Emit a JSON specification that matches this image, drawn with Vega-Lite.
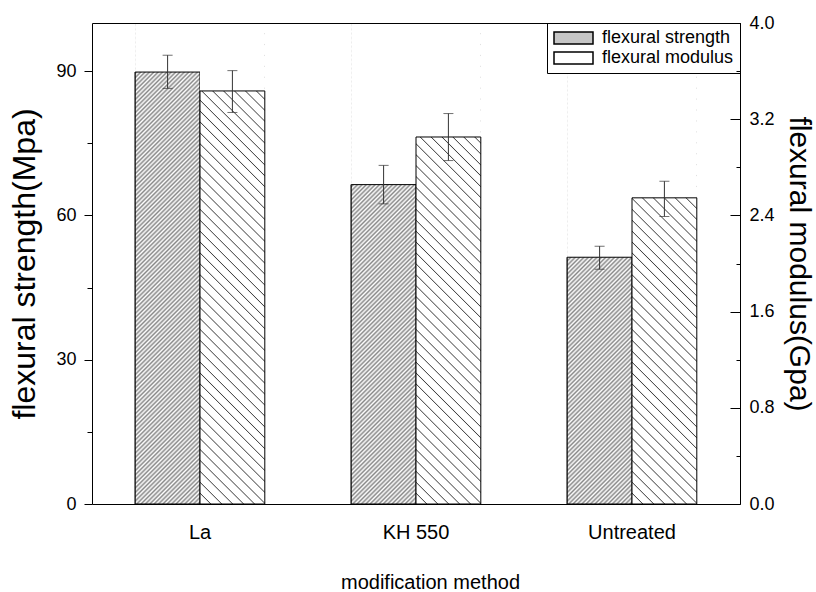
{
"$schema":"https://vega.github.io/schema/vega-lite/v6.json",
"width":648,"height":481,
"autosize":{"type":"none"},
"padding":{"left":92,"top":23,"right":76,"bottom":88},
"background":"white",
"config":{"view":{"stroke":null},"font":"Liberation Sans","axis":{"grid":false}},
"data":{"values":[
{"method":"La","series":"flexural strength","value":89.8,"lo":86.4,"hi":93.3},
{"method":"KH 550","series":"flexural strength","value":66.4,"lo":62.4,"hi":70.4},
{"method":"Untreated","series":"flexural strength","value":51.3,"lo":48.8,"hi":53.6},
{"method":"La","series":"flexural modulus","value":3.435,"lo":3.256,"hi":3.604},
{"method":"KH 550","series":"flexural modulus","value":3.052,"lo":2.856,"hi":3.247},
{"method":"Untreated","series":"flexural modulus","value":2.546,"lo":2.391,"hi":2.684}
]},
"layer":[
{
"transform":[{"filter":"datum.series === 'flexural strength'"}],
"encoding":{
"x":{"field":"method","type":"nominal","sort":["La","KH 550","Untreated"],"scale":{"paddingInner":0.4,"paddingOuter":0.2},"axis":null},
"xOffset":{"field":"series","type":"nominal","scale":{"domain":["flexural strength","flexural modulus"],"paddingInner":0,"paddingOuter":0}}
},
"layer":[
{"mark":{"type":"bar","stroke":"black","strokeWidth":1},
"encoding":{
"y":{"field":"value","type":"quantitative","scale":{"domain":[0,100],"nice":false},"axis":null},
"fill":{"field":"series","type":"nominal","scale":{"domain":["flexural strength","flexural modulus"],"range":["#c6c6c6","#ffffff"]},
"legend":{"title":null,"orient":"top-right","offset":0,"padding":6,"strokeColor":"black","fillColor":"white","symbolType":"M-1,-0.31H1V0.31H-1Z","symbolSize":1521,"clipHeight":18,"rowPadding":2,"labelFont":"Liberation Sans","labelFontSize":18,"labelColor":"black","labelOffset":8,"labelLimit":300,
"encode":{"symbols":{
"fill":{"condition":{"test":"datum.label === 'flexural modulus'","value":{"gradient":"linear","x1":0,"y1":1,"x2":1.1946,"y2":0.6324,"stops":[
{"offset":0,"color":"#444"},{"offset":0.02,"color":"#fff"},{"offset":0.18,"color":"#fff"},{"offset":0.2,"color":"#444"},{"offset":0.22,"color":"#fff"},{"offset":0.38,"color":"#fff"},{"offset":0.4,"color":"#444"},{"offset":0.42,"color":"#fff"},{"offset":0.58,"color":"#fff"},{"offset":0.6,"color":"#444"},{"offset":0.62,"color":"#fff"},{"offset":0.78,"color":"#fff"},{"offset":0.8,"color":"#444"},{"offset":0.82,"color":"#fff"},{"offset":0.98,"color":"#fff"},{"offset":1,"color":"#444"}]}},
"value":"#c6c6c6"},
"stroke":{"value":"black"},"strokeWidth":{"value":1},"opacity":{"value":1}}}}}
}},
{"mark":{"type":"bar","fill":{"gradient":"linear","x1":0,"y1":0,"x2":0.15015,"y2":1.11451,"stops":[
{"offset":0,"color":"#fff"},{"offset":0.004,"color":"#888"},{"offset":0.008,"color":"#fff"},{"offset":0.012,"color":"#888"},{"offset":0.016,"color":"#fff"},{"offset":0.02,"color":"#888"},{"offset":0.024,"color":"#fff"},{"offset":0.028,"color":"#888"},{"offset":0.032,"color":"#fff"},{"offset":0.036,"color":"#888"},
{"offset":0.04,"color":"#fff"},{"offset":0.044,"color":"#888"},{"offset":0.048,"color":"#fff"},{"offset":0.052,"color":"#888"},{"offset":0.056,"color":"#fff"},{"offset":0.06,"color":"#888"},{"offset":0.064,"color":"#fff"},{"offset":0.068,"color":"#888"},{"offset":0.072,"color":"#fff"},{"offset":0.076,"color":"#888"},
{"offset":0.08,"color":"#fff"},{"offset":0.084,"color":"#888"},{"offset":0.088,"color":"#fff"},{"offset":0.092,"color":"#888"},{"offset":0.096,"color":"#fff"},{"offset":0.1,"color":"#888"},{"offset":0.104,"color":"#fff"},{"offset":0.108,"color":"#888"},{"offset":0.112,"color":"#fff"},{"offset":0.116,"color":"#888"},
{"offset":0.12,"color":"#fff"},{"offset":0.124,"color":"#888"},{"offset":0.128,"color":"#fff"},{"offset":0.132,"color":"#888"},{"offset":0.136,"color":"#fff"},{"offset":0.14,"color":"#888"},{"offset":0.144,"color":"#fff"},{"offset":0.148,"color":"#888"},{"offset":0.152,"color":"#fff"},{"offset":0.156,"color":"#888"},
{"offset":0.16,"color":"#fff"},{"offset":0.164,"color":"#888"},{"offset":0.168,"color":"#fff"},{"offset":0.172,"color":"#888"},{"offset":0.176,"color":"#fff"},{"offset":0.18,"color":"#888"},{"offset":0.184,"color":"#fff"},{"offset":0.188,"color":"#888"},{"offset":0.192,"color":"#fff"},{"offset":0.196,"color":"#888"},
{"offset":0.2,"color":"#fff"},{"offset":0.204,"color":"#888"},{"offset":0.208,"color":"#fff"},{"offset":0.212,"color":"#888"},{"offset":0.216,"color":"#fff"},{"offset":0.22,"color":"#888"},{"offset":0.224,"color":"#fff"},{"offset":0.228,"color":"#888"},{"offset":0.232,"color":"#fff"},{"offset":0.236,"color":"#888"},
{"offset":0.24,"color":"#fff"},{"offset":0.244,"color":"#888"},{"offset":0.248,"color":"#fff"},{"offset":0.252,"color":"#888"},{"offset":0.256,"color":"#fff"},{"offset":0.26,"color":"#888"},{"offset":0.264,"color":"#fff"},{"offset":0.268,"color":"#888"},{"offset":0.272,"color":"#fff"},{"offset":0.276,"color":"#888"},
{"offset":0.28,"color":"#fff"},{"offset":0.284,"color":"#888"},{"offset":0.288,"color":"#fff"},{"offset":0.292,"color":"#888"},{"offset":0.296,"color":"#fff"},{"offset":0.3,"color":"#888"},{"offset":0.304,"color":"#fff"},{"offset":0.308,"color":"#888"},{"offset":0.312,"color":"#fff"},{"offset":0.316,"color":"#888"},
{"offset":0.32,"color":"#fff"},{"offset":0.324,"color":"#888"},{"offset":0.328,"color":"#fff"},{"offset":0.332,"color":"#888"},{"offset":0.336,"color":"#fff"},{"offset":0.34,"color":"#888"},{"offset":0.344,"color":"#fff"},{"offset":0.348,"color":"#888"},{"offset":0.352,"color":"#fff"},{"offset":0.356,"color":"#888"},
{"offset":0.36,"color":"#fff"},{"offset":0.364,"color":"#888"},{"offset":0.368,"color":"#fff"},{"offset":0.372,"color":"#888"},{"offset":0.376,"color":"#fff"},{"offset":0.38,"color":"#888"},{"offset":0.384,"color":"#fff"},{"offset":0.388,"color":"#888"},{"offset":0.392,"color":"#fff"},{"offset":0.396,"color":"#888"},
{"offset":0.4,"color":"#fff"},{"offset":0.404,"color":"#888"},{"offset":0.408,"color":"#fff"},{"offset":0.412,"color":"#888"},{"offset":0.416,"color":"#fff"},{"offset":0.42,"color":"#888"},{"offset":0.424,"color":"#fff"},{"offset":0.428,"color":"#888"},{"offset":0.432,"color":"#fff"},{"offset":0.436,"color":"#888"},
{"offset":0.44,"color":"#fff"},{"offset":0.444,"color":"#888"},{"offset":0.448,"color":"#fff"},{"offset":0.452,"color":"#888"},{"offset":0.456,"color":"#fff"},{"offset":0.46,"color":"#888"},{"offset":0.464,"color":"#fff"},{"offset":0.468,"color":"#888"},{"offset":0.472,"color":"#fff"},{"offset":0.476,"color":"#888"},
{"offset":0.48,"color":"#fff"},{"offset":0.484,"color":"#888"},{"offset":0.488,"color":"#fff"},{"offset":0.492,"color":"#888"},{"offset":0.496,"color":"#fff"},{"offset":0.5,"color":"#888"},{"offset":0.504,"color":"#fff"},{"offset":0.508,"color":"#888"},{"offset":0.512,"color":"#fff"},{"offset":0.516,"color":"#888"},
{"offset":0.52,"color":"#fff"},{"offset":0.524,"color":"#888"},{"offset":0.528,"color":"#fff"},{"offset":0.532,"color":"#888"},{"offset":0.536,"color":"#fff"},{"offset":0.54,"color":"#888"},{"offset":0.544,"color":"#fff"},{"offset":0.548,"color":"#888"},{"offset":0.552,"color":"#fff"},{"offset":0.556,"color":"#888"},
{"offset":0.56,"color":"#fff"},{"offset":0.564,"color":"#888"},{"offset":0.568,"color":"#fff"},{"offset":0.572,"color":"#888"},{"offset":0.576,"color":"#fff"},{"offset":0.58,"color":"#888"},{"offset":0.584,"color":"#fff"},{"offset":0.588,"color":"#888"},{"offset":0.592,"color":"#fff"},{"offset":0.596,"color":"#888"},
{"offset":0.6,"color":"#fff"},{"offset":0.604,"color":"#888"},{"offset":0.608,"color":"#fff"},{"offset":0.612,"color":"#888"},{"offset":0.616,"color":"#fff"},{"offset":0.62,"color":"#888"},{"offset":0.624,"color":"#fff"},{"offset":0.628,"color":"#888"},{"offset":0.632,"color":"#fff"},{"offset":0.636,"color":"#888"},
{"offset":0.64,"color":"#fff"},{"offset":0.644,"color":"#888"},{"offset":0.648,"color":"#fff"},{"offset":0.652,"color":"#888"},{"offset":0.656,"color":"#fff"},{"offset":0.66,"color":"#888"},{"offset":0.664,"color":"#fff"},{"offset":0.668,"color":"#888"},{"offset":0.672,"color":"#fff"},{"offset":0.676,"color":"#888"},
{"offset":0.68,"color":"#fff"},{"offset":0.684,"color":"#888"},{"offset":0.688,"color":"#fff"},{"offset":0.692,"color":"#888"},{"offset":0.696,"color":"#fff"},{"offset":0.7,"color":"#888"},{"offset":0.704,"color":"#fff"},{"offset":0.708,"color":"#888"},{"offset":0.712,"color":"#fff"},{"offset":0.716,"color":"#888"},
{"offset":0.72,"color":"#fff"},{"offset":0.724,"color":"#888"},{"offset":0.728,"color":"#fff"},{"offset":0.732,"color":"#888"},{"offset":0.736,"color":"#fff"},{"offset":0.74,"color":"#888"},{"offset":0.744,"color":"#fff"},{"offset":0.748,"color":"#888"},{"offset":0.752,"color":"#fff"},{"offset":0.756,"color":"#888"},
{"offset":0.76,"color":"#fff"},{"offset":0.764,"color":"#888"},{"offset":0.768,"color":"#fff"},{"offset":0.772,"color":"#888"},{"offset":0.776,"color":"#fff"},{"offset":0.78,"color":"#888"},{"offset":0.784,"color":"#fff"},{"offset":0.788,"color":"#888"},{"offset":0.792,"color":"#fff"},{"offset":0.796,"color":"#888"},
{"offset":0.8,"color":"#fff"},{"offset":0.804,"color":"#888"},{"offset":0.808,"color":"#fff"},{"offset":0.812,"color":"#888"},{"offset":0.816,"color":"#fff"},{"offset":0.82,"color":"#888"},{"offset":0.824,"color":"#fff"},{"offset":0.828,"color":"#888"},{"offset":0.832,"color":"#fff"},{"offset":0.836,"color":"#888"},
{"offset":0.84,"color":"#fff"},{"offset":0.844,"color":"#888"},{"offset":0.848,"color":"#fff"},{"offset":0.852,"color":"#888"},{"offset":0.856,"color":"#fff"},{"offset":0.86,"color":"#888"},{"offset":0.864,"color":"#fff"},{"offset":0.868,"color":"#888"},{"offset":0.872,"color":"#fff"},{"offset":0.876,"color":"#888"},
{"offset":0.88,"color":"#fff"},{"offset":0.884,"color":"#888"},{"offset":0.888,"color":"#fff"},{"offset":0.892,"color":"#888"},{"offset":0.896,"color":"#fff"},{"offset":0.9,"color":"#888"},{"offset":0.904,"color":"#fff"},{"offset":0.908,"color":"#888"},{"offset":0.912,"color":"#fff"},{"offset":0.916,"color":"#888"},
{"offset":0.92,"color":"#fff"},{"offset":0.924,"color":"#888"},{"offset":0.928,"color":"#fff"},{"offset":0.932,"color":"#888"},{"offset":0.936,"color":"#fff"},{"offset":0.94,"color":"#888"},{"offset":0.944,"color":"#fff"},{"offset":0.948,"color":"#888"},{"offset":0.952,"color":"#fff"},{"offset":0.956,"color":"#888"},
{"offset":0.96,"color":"#fff"},{"offset":0.964,"color":"#888"},{"offset":0.968,"color":"#fff"},{"offset":0.972,"color":"#888"},{"offset":0.976,"color":"#fff"},{"offset":0.98,"color":"#888"},{"offset":0.984,"color":"#fff"},{"offset":0.988,"color":"#888"},{"offset":0.992,"color":"#fff"},{"offset":0.996,"color":"#888"},
{"offset":1,"color":"#fff"}]}},
"encoding":{
"x":{"field":"method","type":"nominal","sort":["La","KH 550","Untreated"],"scale":{"paddingInner":0.4,"paddingOuter":0.2},"axis":{"orient":"bottom","ticks":false,"domain":true,"domainColor":"black","domainWidth":1,"labelFontSize":20,"labelColor":"black","labelPadding":18,"labelAngle":0,"title":"modification method","titleFontSize":20,"titleFontWeight":"normal","titleColor":"black","titlePadding":30,"titleX":338,"zindex":1}},
"y":{"datum":100,"type":"quantitative","scale":{"domain":[0,100],"nice":false},"axis":{"orient":"left","values":[0,30,60,90],"tickSize":8,"tickColor":"black","labelFontSize":18,"labelColor":"black","labelPadding":8,"labelFlush":false,"domainColor":"black","title":"flexural strength(Mpa)","titleFontSize":32,"titleFontWeight":"normal","titleColor":"black","titlePadding":14,"zindex":1}},
"y2":{"datum":0}
}},
{"mark":{"type":"bar","fill":"white"},
"encoding":{
"x":{"field":"method","type":"nominal","sort":["La","KH 550","Untreated"],"scale":{"paddingInner":0.4,"paddingOuter":0.2},"axis":{"orient":"top","ticks":false,"labels":false,"title":null,"domain":true,"domainColor":"black","zindex":1}},
"y":{"field":"value","type":"quantitative","scale":{"domain":[0,100],"nice":false},"axis":{"orient":"left","values":[15,45,75],"tickSize":5,"tickColor":"black","labels":false,"domain":false,"title":null,"zindex":1}},
"y2":{"datum":100}
}},
{"mark":{"type":"bar","stroke":"black","strokeWidth":1,"fill":"transparent"},
"encoding":{"y":{"field":"value","type":"quantitative","scale":{"domain":[0,100],"nice":false},"axis":null}}},
{"mark":{"type":"rule","color":"#333","strokeWidth":1},
"encoding":{"y":{"field":"lo","type":"quantitative","scale":{"domain":[0,100],"nice":false},"axis":null},"y2":{"field":"hi"}}},
{"mark":{"type":"tick","orient":"horizontal","size":10,"thickness":1,"color":"#333"},
"encoding":{"y":{"field":"lo","type":"quantitative","scale":{"domain":[0,100],"nice":false},"axis":null}}},
{"mark":{"type":"tick","orient":"horizontal","size":10,"thickness":1,"color":"#333"},
"encoding":{"y":{"field":"hi","type":"quantitative","scale":{"domain":[0,100],"nice":false},"axis":null}}}
],
"resolve":{"axis":{"x":"independent","y":"independent"}}
},
{
"transform":[{"filter":"datum.series === 'flexural modulus'"}],
"encoding":{
"x":{"field":"method","type":"nominal","sort":["La","KH 550","Untreated"],"scale":{"paddingInner":0.4,"paddingOuter":0.2},"axis":null},
"xOffset":{"field":"series","type":"nominal","scale":{"domain":["flexural strength","flexural modulus"],"paddingInner":0,"paddingOuter":0}}
},
"layer":[
{"mark":{"type":"bar","fill":{"gradient":"linear","x1":0,"y1":1,"x2":0.15015,"y2":-0.11451,"stops":[
{"offset":0,"color":"#444"},{"offset":0.002,"color":"#fff"},{"offset":0.018,"color":"#fff"},
{"offset":0.02,"color":"#444"},{"offset":0.022,"color":"#fff"},{"offset":0.038,"color":"#fff"},
{"offset":0.04,"color":"#444"},{"offset":0.042,"color":"#fff"},{"offset":0.058,"color":"#fff"},
{"offset":0.06,"color":"#444"},{"offset":0.062,"color":"#fff"},{"offset":0.078,"color":"#fff"},
{"offset":0.08,"color":"#444"},{"offset":0.082,"color":"#fff"},{"offset":0.098,"color":"#fff"},
{"offset":0.1,"color":"#444"},{"offset":0.102,"color":"#fff"},{"offset":0.118,"color":"#fff"},
{"offset":0.12,"color":"#444"},{"offset":0.122,"color":"#fff"},{"offset":0.138,"color":"#fff"},
{"offset":0.14,"color":"#444"},{"offset":0.142,"color":"#fff"},{"offset":0.158,"color":"#fff"},
{"offset":0.16,"color":"#444"},{"offset":0.162,"color":"#fff"},{"offset":0.178,"color":"#fff"},
{"offset":0.18,"color":"#444"},{"offset":0.182,"color":"#fff"},{"offset":0.198,"color":"#fff"},
{"offset":0.2,"color":"#444"},{"offset":0.202,"color":"#fff"},{"offset":0.218,"color":"#fff"},
{"offset":0.22,"color":"#444"},{"offset":0.222,"color":"#fff"},{"offset":0.238,"color":"#fff"},
{"offset":0.24,"color":"#444"},{"offset":0.242,"color":"#fff"},{"offset":0.258,"color":"#fff"},
{"offset":0.26,"color":"#444"},{"offset":0.262,"color":"#fff"},{"offset":0.278,"color":"#fff"},
{"offset":0.28,"color":"#444"},{"offset":0.282,"color":"#fff"},{"offset":0.298,"color":"#fff"},
{"offset":0.3,"color":"#444"},{"offset":0.302,"color":"#fff"},{"offset":0.318,"color":"#fff"},
{"offset":0.32,"color":"#444"},{"offset":0.322,"color":"#fff"},{"offset":0.338,"color":"#fff"},
{"offset":0.34,"color":"#444"},{"offset":0.342,"color":"#fff"},{"offset":0.358,"color":"#fff"},
{"offset":0.36,"color":"#444"},{"offset":0.362,"color":"#fff"},{"offset":0.378,"color":"#fff"},
{"offset":0.38,"color":"#444"},{"offset":0.382,"color":"#fff"},{"offset":0.398,"color":"#fff"},
{"offset":0.4,"color":"#444"},{"offset":0.402,"color":"#fff"},{"offset":0.418,"color":"#fff"},
{"offset":0.42,"color":"#444"},{"offset":0.422,"color":"#fff"},{"offset":0.438,"color":"#fff"},
{"offset":0.44,"color":"#444"},{"offset":0.442,"color":"#fff"},{"offset":0.458,"color":"#fff"},
{"offset":0.46,"color":"#444"},{"offset":0.462,"color":"#fff"},{"offset":0.478,"color":"#fff"},
{"offset":0.48,"color":"#444"},{"offset":0.482,"color":"#fff"},{"offset":0.498,"color":"#fff"},
{"offset":0.5,"color":"#444"},{"offset":0.502,"color":"#fff"},{"offset":0.518,"color":"#fff"},
{"offset":0.52,"color":"#444"},{"offset":0.522,"color":"#fff"},{"offset":0.538,"color":"#fff"},
{"offset":0.54,"color":"#444"},{"offset":0.542,"color":"#fff"},{"offset":0.558,"color":"#fff"},
{"offset":0.56,"color":"#444"},{"offset":0.562,"color":"#fff"},{"offset":0.578,"color":"#fff"},
{"offset":0.58,"color":"#444"},{"offset":0.582,"color":"#fff"},{"offset":0.598,"color":"#fff"},
{"offset":0.6,"color":"#444"},{"offset":0.602,"color":"#fff"},{"offset":0.618,"color":"#fff"},
{"offset":0.62,"color":"#444"},{"offset":0.622,"color":"#fff"},{"offset":0.638,"color":"#fff"},
{"offset":0.64,"color":"#444"},{"offset":0.642,"color":"#fff"},{"offset":0.658,"color":"#fff"},
{"offset":0.66,"color":"#444"},{"offset":0.662,"color":"#fff"},{"offset":0.678,"color":"#fff"},
{"offset":0.68,"color":"#444"},{"offset":0.682,"color":"#fff"},{"offset":0.698,"color":"#fff"},
{"offset":0.7,"color":"#444"},{"offset":0.702,"color":"#fff"},{"offset":0.718,"color":"#fff"},
{"offset":0.72,"color":"#444"},{"offset":0.722,"color":"#fff"},{"offset":0.738,"color":"#fff"},
{"offset":0.74,"color":"#444"},{"offset":0.742,"color":"#fff"},{"offset":0.758,"color":"#fff"},
{"offset":0.76,"color":"#444"},{"offset":0.762,"color":"#fff"},{"offset":0.778,"color":"#fff"},
{"offset":0.78,"color":"#444"},{"offset":0.782,"color":"#fff"},{"offset":0.798,"color":"#fff"},
{"offset":0.8,"color":"#444"},{"offset":0.802,"color":"#fff"},{"offset":0.818,"color":"#fff"},
{"offset":0.82,"color":"#444"},{"offset":0.822,"color":"#fff"},{"offset":0.838,"color":"#fff"},
{"offset":0.84,"color":"#444"},{"offset":0.842,"color":"#fff"},{"offset":0.858,"color":"#fff"},
{"offset":0.86,"color":"#444"},{"offset":0.862,"color":"#fff"},{"offset":0.878,"color":"#fff"},
{"offset":0.88,"color":"#444"},{"offset":0.882,"color":"#fff"},{"offset":0.898,"color":"#fff"},
{"offset":0.9,"color":"#444"},{"offset":0.902,"color":"#fff"},{"offset":0.918,"color":"#fff"},
{"offset":0.92,"color":"#444"},{"offset":0.922,"color":"#fff"},{"offset":0.938,"color":"#fff"},
{"offset":0.94,"color":"#444"},{"offset":0.942,"color":"#fff"},{"offset":0.958,"color":"#fff"},
{"offset":0.96,"color":"#444"},{"offset":0.962,"color":"#fff"},{"offset":0.978,"color":"#fff"},
{"offset":0.98,"color":"#444"},{"offset":0.982,"color":"#fff"},{"offset":0.998,"color":"#fff"},
{"offset":1,"color":"#444"}]}},
"encoding":{
"y":{"datum":4,"type":"quantitative","scale":{"domain":[0,4],"nice":false},"axis":{"orient":"right","values":[0,0.8,1.6,2.4,3.2,4],"format":".1f","tickSize":-10,"tickColor":"black","labelFontSize":18,"labelColor":"black","labelPadding":19,"labelFlush":false,"domainColor":"black","title":"flexural modulus(Gpa)","titleFontSize":30,"titleFontWeight":"normal","titleColor":"black","titlePadding":9,"zindex":1}},
"y2":{"datum":0}
}},
{"mark":{"type":"bar","fill":"white"},
"encoding":{
"y":{"field":"value","type":"quantitative","scale":{"domain":[0,4],"nice":false},"axis":{"orient":"right","values":[0.4,1.2,2,2.8,3.6],"tickSize":-4,"tickColor":"black","labels":false,"domain":false,"title":null,"zindex":1}},
"y2":{"datum":4}
}},
{"mark":{"type":"bar","stroke":"black","strokeWidth":1,"fill":"transparent"},
"encoding":{"y":{"field":"value","type":"quantitative","scale":{"domain":[0,4],"nice":false},"axis":null}}},
{"mark":{"type":"rule","color":"#333","strokeWidth":1},
"encoding":{"y":{"field":"lo","type":"quantitative","scale":{"domain":[0,4],"nice":false},"axis":null},"y2":{"field":"hi"}}},
{"mark":{"type":"tick","orient":"horizontal","size":10,"thickness":1,"color":"#333"},
"encoding":{"y":{"field":"lo","type":"quantitative","scale":{"domain":[0,4],"nice":false},"axis":null}}},
{"mark":{"type":"tick","orient":"horizontal","size":10,"thickness":1,"color":"#333"},
"encoding":{"y":{"field":"hi","type":"quantitative","scale":{"domain":[0,4],"nice":false},"axis":null}}}
],
"resolve":{"axis":{"y":"independent"}}
}
],
"resolve":{"scale":{"y":"independent"}}
}
